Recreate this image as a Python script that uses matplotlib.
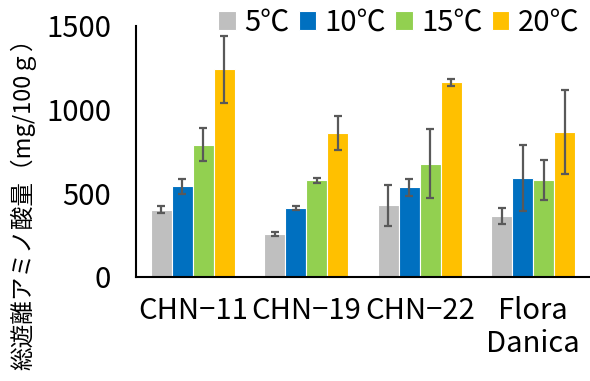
import numpy as np
import matplotlib.pyplot as plt

plt.rcParams['font.family'] = ['Noto Sans CJK JP', 'DejaVu Sans']

品種 = ["CHN\u221211", "CHN\u221219", "CHN\u221222", "Flora\nDanica"]
温度 = ["5℃", "10℃", "15℃", "20℃"]
色 = ["#BFBFBF", "#0070C0", "#92D050", "#FFC000"]

# 平均値 (品種ごと, 5/10/15/20℃)
値_5 = [403, 254, 428, 365]
値_10 = [543, 415, 535, 591]
値_15 = [791, 577, 676, 579]
値_20 = [1242, 859, 1162, 865]
# 標準偏差
誤差_5 = [22, 12, 122, 48]
誤差_10 = [45, 12, 52, 198]
誤差_15 = [99, 15, 206, 117]
誤差_20 = [200, 100, 23, 252]

値 = [値_5, 値_10, 値_15, 値_20]
誤差 = [誤差_5, 誤差_10, 誤差_15, 誤差_20]

fig = plt.figure(figsize=(5.9, 3.81), dpi=100)
ax = fig.add_axes([0.2305, 0.273, 0.7695, 0.659])

x = np.arange(len(品種))
w = 0.185
for i in range(4):
    ax.bar(x + (i - 1.5) * w, 値[i], w, color=色[i], edgecolor="white",
           linewidth=0.8, label=温度[i], zorder=2)
    ax.errorbar(x + (i - 1.5) * w, 値[i], yerr=誤差[i], fmt="none",
                ecolor="#595959", elinewidth=1.6, capsize=3.2, capthick=1.6, zorder=3)

ax.set_xlim(-0.5, 3.5)
ax.set_ylim(0, 1500)
ax.set_yticks([0, 500, 1000, 1500])
ax.set_xticks(x)
ax.set_xticklabels(品種, fontsize=21, linespacing=1.1)
ax.tick_params(axis="y", length=0, pad=18, labelsize=21)
ax.tick_params(axis="x", length=0, pad=14)
for s in ["top", "right"]:
    ax.spines[s].set_visible(False)
ax.spines["left"].set_linewidth(1.5)
ax.spines["bottom"].set_linewidth(1.5)

fig.text(0.039, 0.93, "総遊離アミノ酸量（mg/100ｇ）", rotation=90,
         ha="center", va="top", fontsize=17)

fig.legend(loc="upper right", bbox_to_anchor=(1.012, 1.025), ncol=4, frameon=False,
           fontsize=21, handlelength=0.6, handleheight=0.6, handletextpad=0.3,
           columnspacing=0.3, borderaxespad=0.2)

fig.savefig("out.png", dpi=100)
